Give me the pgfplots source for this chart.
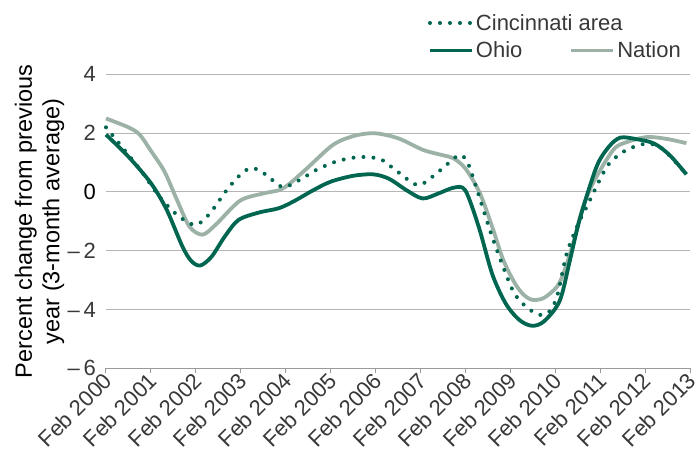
\documentclass[border=0pt]{standalone}
\usepackage{fontspec}
\setmainfont{Liberation Sans}
\usepackage{pgfplots}
\pgfplotsset{compat=1.18}
\definecolor{ohio}{HTML}{00664F}
\definecolor{nation}{HTML}{9DB2A7}
\definecolor{gridc}{HTML}{B5B5B5}
\definecolor{axc}{HTML}{9A9A9A}
\definecolor{txt}{HTML}{383838}
\begin{document}
\begin{tikzpicture}
\begin{axis}[
 scale only axis, width=584pt, height=294pt,
 xmin=0, xmax=13, ymin=-6, ymax=4,
 clip=false,
 axis lines=left,
 axis line style={-},
 x axis line style={draw=axc, line width=1pt},
 y axis line style={draw=none},
 xtick={0,...,13},
 xticklabels={Feb 2000,Feb 2001,Feb 2002,Feb 2003,Feb 2004,Feb 2005,Feb 2006,Feb 2007,Feb 2008,Feb 2009,Feb 2010,Feb 2011,Feb 2012,Feb 2013},
 ytick={-6,-4,-2,0,2,4},
 yticklabels={–\,6,–\,4,–\,2,{\color{black}0},2,4},
 ymajorgrids, grid style={gridc, line width=1pt},
 tick align=outside,
 major tick length=5pt,
 xtick style={draw=axc, line width=1pt},
 ytick style={draw=none},
 tick label style={font=\fontsize{22}{26}\selectfont, text=txt},
 xticklabel style={rotate=45, anchor=east, inner sep=1pt, yshift=-4pt},
 yticklabel style={inner sep=2pt, xshift=-3pt},
 ylabel={Percent change from previous\\year (3-month average)},
 ylabel style={align=center, font=\fontsize{23.5}{27.5}\selectfont, text=black, yshift=-2pt},
 legend style={at={(0.551,1.212)}, anchor=north west, draw=none, fill=none,
   inner sep=0pt, font=\fontsize{22}{26}\selectfont, text=txt,
   legend cell align=left, row sep=6pt,
   /tikz/column 2/.style={column sep=45pt}},
 legend columns=2,
 legend image code/.code={\draw[#1] (0pt,0pt) -- (42pt,0pt);},
]
% Nation
\addplot[nation, line width=3.8pt, smooth, forget plot] coordinates {
(0,2.5) (0.5,2.2) (0.75,1.95) (1.0,1.4) (1.3,0.7) (1.58,-0.27)
(1.86,-1.18) (2.15,-1.45) (2.45,-1.1) (2.98,-0.3) (3.5,-0.05) (3.87,0.07)
(4.1,0.3) (4.47,0.8) (5.05,1.6) (5.5,1.9) (5.9,2.0) (6.2,1.95) (6.55,1.8)
(7.06,1.43) (7.5,1.25) (7.73,1.15) (8.0,0.8) (8.32,-0.03) (8.6,-1.2)
(8.84,-2.3) (9.1,-3.1) (9.3,-3.5) (9.5,-3.67) (9.75,-3.6) (10.04,-3.22)
(10.2,-2.7) (10.4,-1.74) (10.6,-0.6) (10.84,0.3) (11.29,1.43) (11.6,1.7)
(12.05,1.87) (12.5,1.8) (12.92,1.66)};
% Ohio
\addplot[ohio, line width=3.8pt, smooth, forget plot] coordinates {
(0,1.95) (0.5,1.2) (1.0,0.3) (1.35,-0.6) (1.7,-1.85) (1.9,-2.35) (2.1,-2.5)
(2.35,-2.2) (2.65,-1.5) (2.95,-0.95) (3.4,-0.7) (3.85,-0.55) (4.2,-0.3)
(4.6,0.05) (5.0,0.35) (5.5,0.55) (5.95,0.6) (6.3,0.45) (6.7,0.05)
(7.05,-0.22) (7.4,-0.05) (7.75,0.15) (8.0,0.05) (8.3,-1.2) (8.6,-2.8)
(8.9,-3.8) (9.2,-4.35) (9.48,-4.55) (9.75,-4.4) (10.1,-3.7) (10.33,-2.3)
(10.55,-0.9) (10.92,0.86) (11.2,1.55) (11.45,1.85) (11.8,1.8) (12.2,1.65)
(12.55,1.25) (12.92,0.6)};
% Cincinnati
\addplot[ohio, line width=4pt, line cap=round, dash pattern=on 0pt off 10pt, smooth, forget plot] coordinates {
(0,2.2) (0.4,1.45) (0.8,0.68) (1.19,-0.16) (1.6,-0.8) (1.99,-1.12)
(2.3,-0.75) (2.69,0.07) (3.0,0.6) (3.25,0.82) (3.55,0.6) (3.93,0.17)
(4.3,0.4) (4.68,0.75) (5.15,1.05) (5.65,1.19) (6.1,1.12) (6.4,0.8)
(6.92,0.24) (7.25,0.5) (7.6,0.95) (7.87,1.26) (8.05,1.0) (8.26,0.07)
(8.62,-1.63) (9.05,-3.33) (9.35,-3.9) (9.65,-4.18) (9.88,-4.05)
(10.05,-3.5) (10.26,-2.07) (10.55,-0.95) (10.7,-0.5) (11.15,0.86)
(11.5,1.35) (11.74,1.53) (12.05,1.65) (12.33,1.53) (12.6,1.15) (12.92,0.6)};
\addlegendimage{ohio, line width=4pt, line cap=round, dash pattern=on 0pt off 10pt}
\addlegendentry{\makebox[0pt][l]{Cincinnati area}}
\addlegendimage{empty legend}
\addlegendentry{}
\addlegendimage{ohio, line width=3.8pt}
\addlegendentry{Ohio}
\addlegendimage{nation, line width=3.8pt}
\addlegendentry{Nation}
\end{axis}
\pgfresetboundingbox
\path (-106pt,-95.6pt) rectangle (594pt,368.4pt);
\end{tikzpicture}
\end{document}
